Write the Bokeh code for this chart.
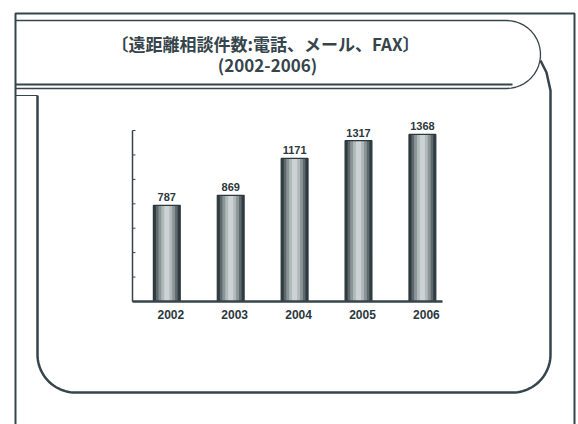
import numpy as np
from bokeh.plotting import figure
from bokeh.models import Range1d, ColumnDataSource
from bokeh.core.properties import value
from bokeh.embed import file_html
from bokeh.resources import INLINE

# ---- data ----
years = ["2002", "2003", "2004", "2005", "2006"]
counts = [787, 869, 1171, 1317, 1368]
y_ticks = [0, 200, 400, 600, 800, 1000, 1200, 1400]
title_line1 = "〔遠距離相談件数:電話、メール、FAX〕"
title_line2 = "(2002-2006)"

# ---- layout (pixels) ----
W, H = 578, 424
AXIS_LEFT, AXIS_RIGHT = 132, 442
BASE, TOP = 301, 130
Y_MAX = y_ticks[-1]
BAR_C0, BAR_STEP = 166.3, 63.9
INK = "#36454b"
BAR_INK = "#2c383d"

p = figure(width=W, height=H, x_range=Range1d(0, W), y_range=Range1d(H, 0),
           min_border=0, toolbar_location=None, output_backend="svg",
           x_axis_location=None, y_axis_location=None)
p.grid.visible = False
p.outline_line_color = None
p.background_fill_color = "white"
p.border_fill_color = "white"

scale = (BASE - TOP) / Y_MAX
p.extra_y_ranges = {"v": Range1d(-(H - BASE) / scale, BASE / scale)}
p.extra_x_ranges = {"c": Range1d(-BAR_C0 / BAR_STEP, (W - BAR_C0) / BAR_STEP)}

# ---- decorations (slide frame) ----
def arc(cx, cy, r, a0, a1, n=24):
    a = np.radians(np.linspace(a0, a1, n))
    return list(cx + r * np.cos(a)), list(cy + r * np.sin(a))

# outer page frame
p.line([15, 15, 574, 574], [424, 13, 13, 424], line_color=INK, line_width=2)

# title box with rounded right end
ax, ay = arc(506, 54, 34, -90, 90)
p.line([15] + ax + [15], [20] + ay + [88], line_color=INK, line_width=1.3)
p.line([15, 512], [84, 84], line_color=INK, line_width=2)
p.line([15, 37], [95, 95], line_color=INK, line_width=1.2)

# content box
r1x, r1y = arc(512, 354, 38, 0, 90)
r2x, r2y = arc(75, 354, 38, 90, 180)
bx = [540, 546, 550] + r1x + r2x + [37]
by = [60, 72, 90] + r1y + r2y + [95]
p.line(bx, by, line_color=INK, line_width=2.5)

# ---- titles ----
p.text(x=[265], y=[43], text=[title_line1], text_align="center", text_baseline="middle",
       text_font=value("Noto Sans CJK JP"), text_font_style="bold",
       text_font_size="17px", text_color=INK)
p.text(x=[267], y=[64], text=[title_line2], text_align="center", text_baseline="middle",
       text_font=value("Noto Sans CJK JP"), text_font_style="bold",
       text_font_size="17px", text_color=INK)

# ---- bars ----
idx = np.arange(len(years))
src = ColumnDataSource(dict(x=idx, top=counts, year=years, label=[str(c) for c in counts]))

for w, col in [(0.42, "#2f3b40"), (0.34, "#5e696d"), (0.26, "#8b9598"),
               (0.17, "#b1b9bb"), (0.08, "#cdd3d4")]:
    p.vbar(x="x", top="top", bottom=0, width=w, source=src, fill_color=col,
           line_color=None, x_range_name="c", y_range_name="v")
p.vbar(x="x", top="top", bottom=0, width=0.42, source=src, fill_color=None,
       line_color=BAR_INK, line_width=1.2, x_range_name="c", y_range_name="v")

# ---- axes (drawn) ----
p.segment(x0=[AXIS_LEFT], y0=[0], x1=[AXIS_LEFT], y1=[Y_MAX],
          line_color=INK, line_width=1.5, y_range_name="v")
p.segment(x0=[AXIS_LEFT] * len(y_ticks), y0=y_ticks,
          x1=[AXIS_LEFT + 3] * len(y_ticks), y1=y_ticks,
          line_color=INK, line_width=1, y_range_name="v")
p.segment(x0=[AXIS_LEFT], y0=[0], x1=[AXIS_RIGHT], y1=[0],
          line_color=INK, line_width=2.5, y_range_name="v")

# ---- labels ----
p.text(x="x", y=0, text="year", source=src, x_range_name="c", y_range_name="v",
       x_offset=4, y_offset=13, text_align="center", text_baseline="middle",
       text_font=value("Liberation Sans"), text_font_style="bold",
       text_font_size="12px", text_color=BAR_INK)
p.text(x="x", y="top", text="label", source=src, x_range_name="c", y_range_name="v",
       y_offset=-4, text_align="center", text_baseline="bottom",
       text_font=value("Liberation Sans"), text_font_style="bold",
       text_font_size="11px", text_color=BAR_INK)

open("out.html", "w").write(file_html(p, INLINE))
